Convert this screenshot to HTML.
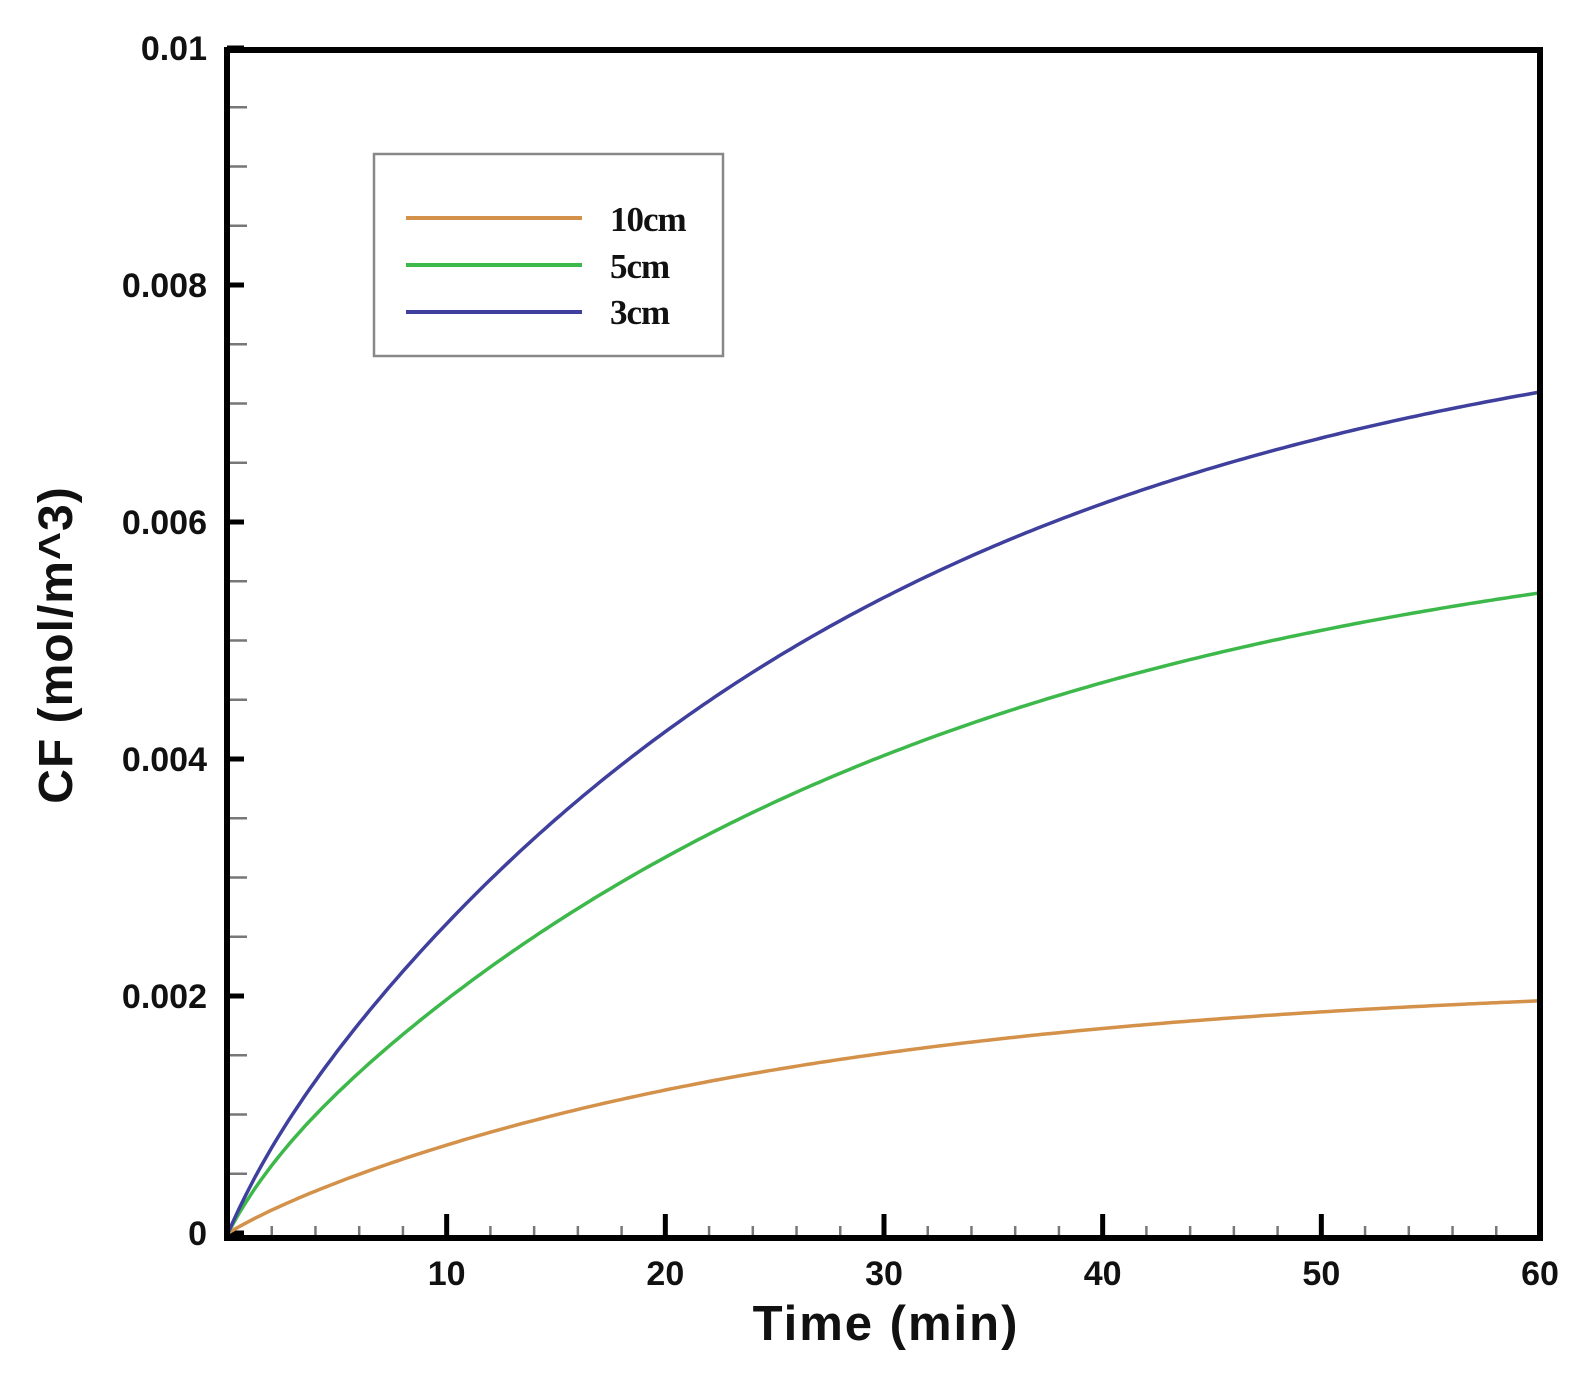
<!DOCTYPE html>
<html><head><meta charset="utf-8"><style>
html,body{margin:0;padding:0;background:#fff;}
svg{display:block}
text{font-family:"Liberation Sans",Arial,sans-serif;font-weight:bold;fill:#111}
</style></head><body>
<svg id="s" width="1580" height="1379" viewBox="0 0 1580 1379" xmlns="http://www.w3.org/2000/svg">
<g id="ticks"></g>
<path id="c10" fill="none" stroke="#d4914a" stroke-width="3.5"/>
<path id="c5" fill="none" stroke="#3db84a" stroke-width="3.5"/>
<path id="c3" fill="none" stroke="#3f3f9e" stroke-width="3.5"/>
<rect x="227" y="50" width="1313" height="1188" fill="none" stroke="#000" stroke-width="6"/>
<rect x="374" y="154" width="349" height="202" fill="#fff" stroke="#888" stroke-width="2.5"/>
<line x1="406" y1="218" x2="582" y2="218" stroke="#d4914a" stroke-width="4"/>
<line x1="406" y1="265" x2="582" y2="265" stroke="#3db84a" stroke-width="4"/>
<line x1="406" y1="312" x2="582" y2="312" stroke="#3f3f9e" stroke-width="4"/>
<text x="610" y="231" font-size="35" style="font-family:'Liberation Serif',serif" letter-spacing="-1">10cm</text>
<text x="610" y="278" font-size="35" style="font-family:'Liberation Serif',serif" letter-spacing="-1">5cm</text>
<text x="610" y="324" font-size="35" style="font-family:'Liberation Serif',serif" letter-spacing="-1">3cm</text>
<text x="886" y="1340" font-size="49" text-anchor="middle" letter-spacing="2">Time (min)</text>
<text transform="translate(72,645) rotate(-90)" font-size="48" text-anchor="middle" letter-spacing="1">CF (mol/m^3)</text>
</svg>
<script>
var X0=228,XS=(1540-228)/60,Y0=1233,YS=237/0.002;
var g=document.getElementById('ticks'),h='';
for(var i=0;i<=20;i++){var v=i*0.0005,y=Y0-v*YS;
 if(i%4==0){h+='<line x1="227" y1="'+y+'" x2="244" y2="'+y+'" stroke="#000" stroke-width="5"/>';
 var lab=i==0?'0':(i==20?'0.01':v.toFixed(3));
 h+='<text x="207" y="'+(y+12)+'" font-size="34" text-anchor="end">'+lab+'</text>';}
 else h+='<line x1="227" y1="'+y+'" x2="247" y2="'+y+'" stroke="#777" stroke-width="2.5"/>';}
for(var t=2;t<=60;t+=2){var x=X0+t*XS;
 if(t%10==0){if(t<60)h+='<line x1="'+x+'" y1="1238" x2="'+x+'" y2="1214" stroke="#000" stroke-width="5"/>';
 h+='<text x="'+x+'" y="1285" font-size="34" text-anchor="middle">'+t+'</text>';}
 else h+='<line x1="'+x+'" y1="1238" x2="'+x+'" y2="1226" stroke="#777" stroke-width="2.5"/>';}
g.innerHTML=h;
function P(A,tau,B){var d='';for(var k=0;k<=240;k++){var t=k*0.25;var v=A*(1-Math.exp(-t/tau))+B*(1-Math.exp(-t/2));
 d+=(k?'L':'M')+(X0+t*XS).toFixed(1)+' '+(Y0-v*YS).toFixed(1);}return d;}
document.getElementById('c10').setAttribute('d',P(0.0021,25,0.00005));
document.getElementById('c5').setAttribute('d',P(0.0059,30,0.0003));
document.getElementById('c3').setAttribute('d',P(0.0077,28,0.0003));
</script>
</body></html>
